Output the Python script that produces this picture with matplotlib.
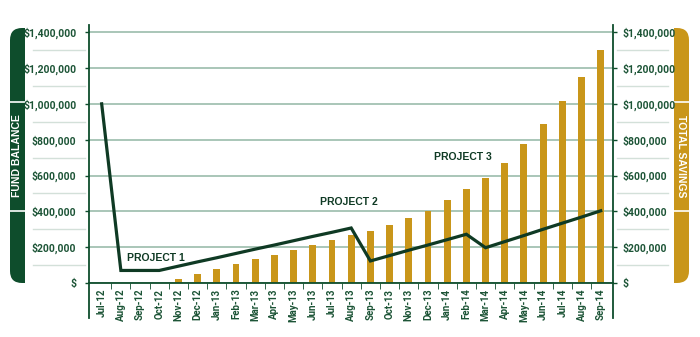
import matplotlib.pyplot as plt
import matplotlib.patches as patches
import matplotlib.font_manager as fm
from matplotlib.ticker import FuncFormatter, MultipleLocator

names = {f.name for f in fm.fontManager.ttflist}
narrow = 'Liberation Sans Narrow' if 'Liberation Sans Narrow' in names else 'Roboto'
plt.rcParams['font.family'] = [narrow, 'DejaVu Sans']
plt.rcParams['font.weight'] = 'bold'

# 数据
months = ["Jul-12", "Aug-12", "Sep-12", "Oct-12", "Nov-12", "Dec-12", "Jan-13", "Feb-13", "Mar-13",
          "Apr-13", "May-13", "Jun-13", "Jul-13", "Aug-13", "Sep-13", "Oct-13", "Nov-13", "Dec-13",
          "Jan-14", "Feb-14", "Mar-14", "Apr-14", "May-14", "Jun-14", "Jul-14", "Aug-14", "Sep-14"]
total_savings = [0, 0, 0, 0, 22000, 50000, 76000, 104000, 132000,
                 158000, 184000, 212000, 238000, 266000, 292000, 321000, 361000, 400000,
                 461000, 522000, 584000, 672000, 778000, 885000, 1015000, 1150000, 1303000]
fund_balance = [1000000, 70000, 70000, 70000, 94000, 118000, 141000, 165000, 189000,
                212000, 236000, 260000, 283000, 307000, 123000, 153000, 183000, 212000,
                242000, 272000, 197000, 231000, 265000, 300000, 334000, 368000, 403000]
project_labels = ["PROJECT 1", "PROJECT 2", "PROJECT 3"]
project_pos = [(2.85, 139000), (12.9, 452000), (18.8, 703000)]

GREEN = '#0e4d2c'
LINE = '#0f3a24'
GOLD = '#c9961a'
TXT = '#1c5436'
GRID = '#a3c2b2'
LIGHT = '#d3e0d9'

fig = plt.figure(figsize=(7, 3.37), dpi=100)

# 两侧标签（放在最底层）
ov = fig.add_axes([0, 0, 1, 1])
ov.set_zorder(-5)
ov.set_xlim(0, 700)
ov.set_ylim(337, 0)
ov.axis('off')

lt = patches.FancyBboxPatch((10, 28), 30, 255, boxstyle="round,pad=0,rounding_size=12",
                            facecolor=GREEN, edgecolor='none')
ov.add_patch(lt)
lt.set_clip_path(patches.Rectangle((0, 0), 24.5, 337, transform=ov.transData))
rt = patches.FancyBboxPatch((659, 28), 30, 255, boxstyle="round,pad=0,rounding_size=12",
                            facecolor=GOLD, edgecolor='none')
ov.add_patch(rt)
rt.set_clip_path(patches.Rectangle((674, 0), 30, 337, transform=ov.transData))
for yy in (101.5, 211):
    ov.plot([8, 25], [yy, yy], color='white', lw=1.2)
    ov.plot([674, 691], [yy, yy], color='white', lw=1.2)

ov.text(17.5, 156, "FUND BALANCE", rotation=90, color='white', fontsize=7.5, fontweight='bold',
        ha='center', va='center', family=['Liberation Sans', 'DejaVu Sans'])
ov.text(681.5, 156, "TOTAL SAVINGS", rotation=270, color='white', fontsize=7.5, fontweight='bold',
        ha='center', va='center', family=['Liberation Sans', 'DejaVu Sans'])

ax = fig.add_axes([89 / 700, 1 - 283 / 337, 524 / 700, 258 / 337])
ax2 = ax.twinx()

x = range(len(months))
ax2.bar(x, total_savings, width=0.36, color=GOLD, zorder=3)
ax.plot(x, fund_balance, color=LINE, lw=2.3, zorder=4, solid_joinstyle='miter')
ax.set_zorder(ax2.get_zorder() + 1)
ax.patch.set_visible(False)
ax2.patch.set_visible(False)

fmt = FuncFormatter(lambda v, p: '$' if v == 0 else '${:,.0f}'.format(v))
for a in (ax, ax2):
    a.set_ylim(0, 1440000)
    a.set_xlim(-0.66, 26.64)
    a.yaxis.set_major_locator(MultipleLocator(200000))
    a.yaxis.set_major_formatter(fmt)
    for s in a.spines.values():
        s.set_visible(False)
ax.tick_params(axis='y', length=3, width=1, color=GREEN, labelsize=7.5, labelcolor=TXT, pad=6)
ax2.tick_params(axis='y', length=3, width=1, color=GREEN, labelsize=7.5, labelcolor=TXT, pad=4)

ax2.grid(axis='y', color=GRID, lw=1.3, zorder=0)
ax2.set_axisbelow(True)
ax.spines['left'].set_visible(True)
ax.spines['left'].set_color(GREEN)
ax.spines['bottom'].set_visible(True)
ax.spines['bottom'].set_color(GREEN)
ax2.spines['right'].set_visible(True)
ax2.spines['right'].set_color(GREEN)
for s in (ax.spines['left'], ax.spines['bottom'], ax2.spines['right']):
    s.set_linewidth(1.3)

ax.set_xticks(list(x))
ax.set_xticklabels(months, rotation=90, fontsize=7, color=TXT)
ax.set_xticks([i + 0.5 for i in range(len(months) - 1)], minor=True)
ax.tick_params(axis='x', which='major', length=0, pad=4)
ax.tick_params(axis='x', which='minor', length=4, color=GREEN)

# 轴线向下延伸
ax.plot([0, 0], [0, -0.135], transform=ax.transAxes, color=GREEN, lw=1.3, clip_on=False)
ax.plot([1, 1], [0, -0.135], transform=ax.transAxes, color=GREEN, lw=1.3, clip_on=False)

# 标签之间的浅色分隔线
for k in range(7):
    yv = (100000 + 200000 * k) / 1440000
    ax.plot([-0.107, -0.008], [yv, yv], transform=ax.transAxes, color=LIGHT, lw=1, clip_on=False)
    ax.plot([1.008, 1.105], [yv, yv], transform=ax.transAxes, color=LIGHT, lw=1, clip_on=False)

for name, (px, py) in zip(project_labels, project_pos):
    ax.text(px, py, name, fontsize=7.5, color=LINE, ha='center', va='center',
            family=['Liberation Sans', 'DejaVu Sans'])

fig.savefig('out.png', dpi=100)
